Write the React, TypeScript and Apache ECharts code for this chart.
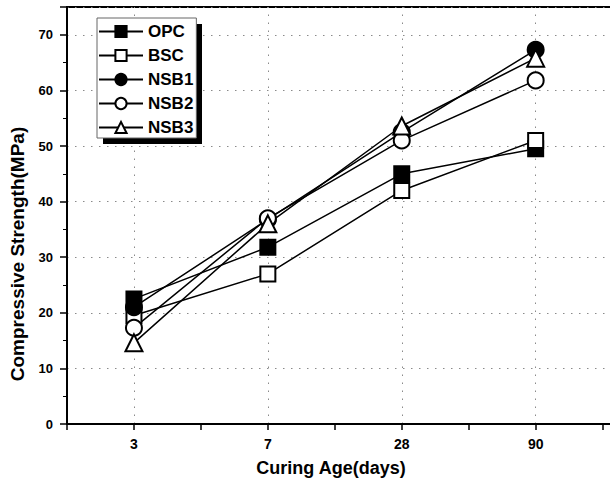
import React, { useEffect, useRef } from "react";
import * as echarts from "echarts";

const categories = ["3", "7", "28", "90"];
const positions = [1, 2, 3, 4];
const opc = [22.5, 31.8, 45, 49.5];
const bsc = [19.5, 27, 42, 51];
const nsb1 = [21, 36.8, 52.5, 67.3];
const nsb2 = [17.3, 37, 51, 61.8];
const nsb3 = [14.6, 36, 53.6, 65.8];
const yTicks = [0, 10, 20, 30, 40, 50, 60, 70];

const FONT = "'Liberation Sans', Arial, sans-serif";

const pairs = (vals: number[]) => vals.map((v, i) => [positions[i], v]);

export default function App() {
  const ref = useRef<HTMLDivElement>(null);
  useEffect(() => {
    if (!ref.current) return;
    const chart = echarts.init(ref.current, undefined, { renderer: "svg" });
    const mk = (
      name: string,
      vals: number[],
      symbol: string,
      filled: boolean,
      size: number,
      extra: any = {}
    ) => ({
      name,
      type: "line",
      data: pairs(vals),
      symbol,
      symbolSize: size,
      showAllSymbol: true,
      lineStyle: { color: "#000", width: 1.5 },
      itemStyle: {
        color: filled ? "#000" : "#fff",
        borderColor: "#000",
        borderWidth: 2,
      },
      emphasis: { disabled: true },
      ...extra,
    });
    chart.setOption({
      animation: false,
      backgroundColor: "#fff",
      grid: {
        left: 67,
        top: 7,
        width: 549,
        height: 417,
        outerBoundsMode: "none",
        containLabel: false,
        show: true,
        borderColor: "#000",
        borderWidth: 2,
        backgroundColor: "transparent",
      },
      xAxis: {
        type: "value",
        min: 0.5,
        max: 4.6,
        interval: 0.5,
        axisLine: { show: true, lineStyle: { color: "#000", width: 2 } },
        axisTick: { show: true, inside: false, length: 6, lineStyle: { color: "#000", width: 1.5 } },
        axisLabel: {
          margin: 13,
          color: "#000",
          fontSize: 14,
          fontWeight: "bold",
          fontFamily: FONT,
          formatter: (v: number) => {
            const i = positions.indexOf(v);
            return i >= 0 ? categories[i] : "";
          },
        },
        splitLine: { show: false },
      },
      yAxis: {
        type: "value",
        min: 0,
        max: 75,
        interval: 10,
        axisLine: { show: true, lineStyle: { color: "#000", width: 2 } },
        axisTick: { show: true, inside: false, length: 7, lineStyle: { color: "#000", width: 1.5 } },
        minorTick: { show: true, splitNumber: 2, length: 4, lineStyle: { color: "#000", width: 1 } },
        axisLabel: {
          margin: 14,
          color: "#000",
          fontSize: 13,
          fontWeight: "bold",
          fontFamily: FONT,
          showMaxLabel: false,
          formatter: (v: number) => (yTicks.indexOf(v) >= 0 ? String(v) : ""),
        },
        splitLine: { show: true, lineStyle: { color: "#8a8a8a", width: 1, type: [1.5, 6.5] } },
      },
      legend: {
        orient: "vertical",
        left: 97,
        top: 18,
        z: 10,
        backgroundColor: "#fff",
        borderColor: "#666",
        borderWidth: 1,
        padding: [5, 3, 2, 1],
        itemWidth: 44,
        itemHeight: 14,
        itemGap: 7,
        textStyle: { color: "#000", fontSize: 17, fontWeight: "bold", fontFamily: FONT },
        data: ["OPC", "BSC", "NSB1", "NSB2", "NSB3"],
      },
      graphic: [
        {
          type: "rect",
          z: 1,
          shape: { x: 103, y: 24, width: 99, height: 120 },
          style: { fill: "#000" },
          silent: true,
        },
        {
          type: "text",
          x: 17,
          y: 254,
          rotation: Math.PI / 2,
          style: {
            text: "Compressive Strength(MPa)",
            fill: "#000",
            font: `bold 19px ${FONT}`,
            align: "center",
            verticalAlign: "middle",
          },
        },
        {
          type: "text",
          x: 331,
          y: 468,
          style: {
            text: "Curing Age(days)",
            fill: "#000",
            font: `bold 18px ${FONT}`,
            align: "center",
            verticalAlign: "middle",
          },
        },
      ],
      series: [
        mk("OPC", opc, "rect", true, 15, {
          markLine: {
            silent: true,
            symbol: "none",
            label: { show: false },
            lineStyle: { color: "#8a8a8a", width: 1, type: [1.5, 6.5] },
            data: positions.map((p) => ({ xAxis: p })),
            z: 0,
          },
        }),
        mk("BSC", bsc, "rect", false, 15),
        mk("NSB1", nsb1, "circle", true, 16),
        mk("NSB2", nsb2, "circle", false, 16),
        mk("NSB3", nsb3, "triangle", false, 17),
      ],
    });
    return () => chart.dispose();
  }, []);
  return <div ref={ref} style={{ width: 610, height: 487, position: "absolute", left: 0, top: 0 }} />;
}
